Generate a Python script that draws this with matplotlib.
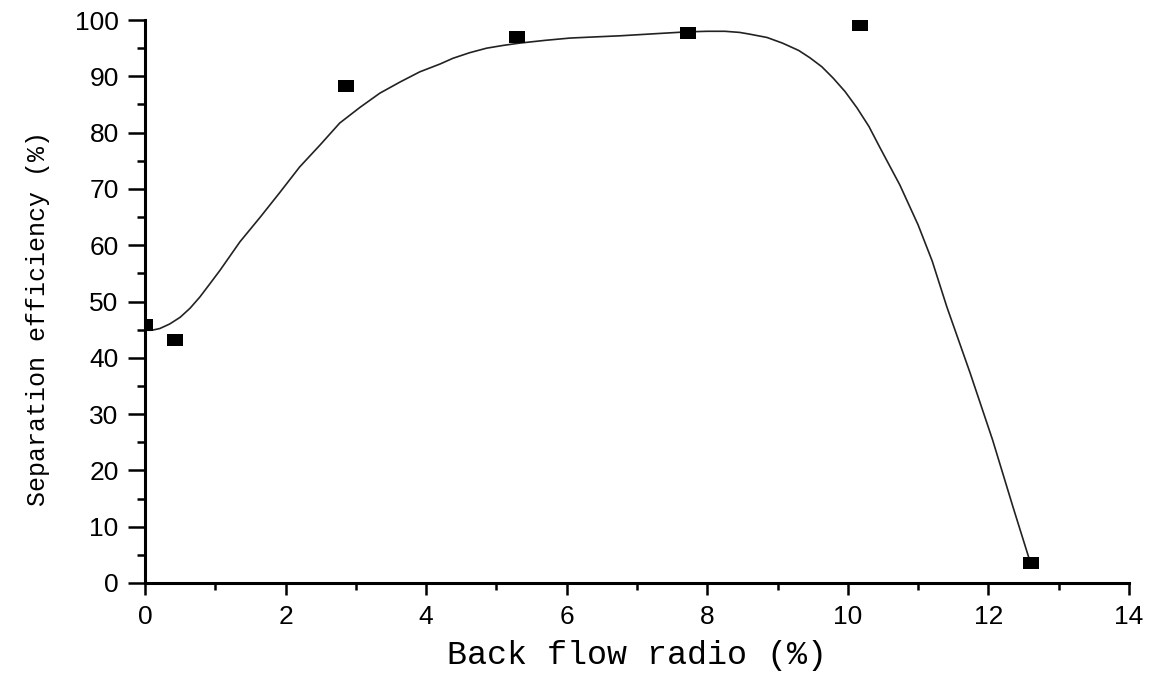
import matplotlib.pyplot as plt
from matplotlib.ticker import MultipleLocator

# measured points
ratio = [0.0, 0.43, 2.86, 5.29, 7.72, 10.17, 12.6]
efficiency = [45.8, 43.2, 88.3, 97.0, 97.7, 99.1, 3.55]

# fitted curve
fit_x = [0.0, 0.1, 0.21, 0.35, 0.5, 0.64, 0.78, 0.92, 1.07, 1.35, 1.64, 1.92,
         2.2, 2.49, 2.77, 3.06, 3.34, 3.63, 3.91, 4.2, 4.38, 4.62, 4.86, 5.1,
         5.33, 5.7, 6.05, 6.4, 6.76, 7.3, 7.71, 8.0, 8.25, 8.46, 8.6, 8.85,
         9.07, 9.3, 9.46, 9.63, 9.79, 9.96, 10.13, 10.3, 10.45, 10.74, 11.0,
         11.2, 11.41, 11.74, 12.06, 12.35, 12.6]
fit_y = [44.9, 44.9, 45.2, 46.0, 47.2, 48.8, 50.8, 53.1, 55.6, 60.6, 65.0, 69.4,
         73.9, 77.8, 81.7, 84.5, 87.0, 89.0, 90.8, 92.2, 93.2, 94.2, 95.0, 95.5,
         95.9, 96.4, 96.8, 97.0, 97.2, 97.6, 97.9, 98.0, 98.0, 97.8, 97.5, 96.9,
         95.9, 94.6, 93.3, 91.7, 89.7, 87.3, 84.4, 81.1, 77.5, 70.7, 63.6,
         57.2, 49.0, 37.3, 25.4, 13.5, 3.5]

fig = plt.figure(figsize=(11.52, 6.79), dpi=100)
ax = fig.add_axes([0.1259, 0.1414, 0.98 - 0.1259, 0.9705 - 0.1414])

ax.plot(fit_x, fit_y, '-', color='#222222', lw=1.2)
box = [(-1, -0.76), (1, -0.76), (1, 0.76), (-1, 0.76), (-1, -0.76)]
ax.plot(ratio, efficiency, linestyle='none', marker=box, markersize=12.2,
        color='black', markeredgewidth=0, zorder=3)

ax.set_xlim(0, 14)
ax.set_ylim(0, 100)
ax.xaxis.set_major_locator(MultipleLocator(2))
ax.xaxis.set_minor_locator(MultipleLocator(1))
ax.yaxis.set_major_locator(MultipleLocator(10))
ax.yaxis.set_minor_locator(MultipleLocator(5))

for side in ['top', 'right']:
    ax.spines[side].set_visible(False)
for side in ['left', 'bottom']:
    ax.spines[side].set_linewidth(2.2)

ax.tick_params(axis='y', which='major', length=12, width=1.8, pad=7,
               labelsize=19, direction='out')
ax.tick_params(axis='y', which='minor', length=6, width=1.8, direction='out')
ax.tick_params(axis='x', which='major', length=8.5, width=1.8, pad=7,
               labelsize=19, direction='out')
ax.tick_params(axis='x', which='minor', length=5, width=1.8, direction='out')
for lab in ax.get_xticklabels() + ax.get_yticklabels():
    lab.set_fontfamily('Liberation Sans')

ax.set_xlabel('Back flow radio (%)', fontsize=24, family='Liberation Mono')
ax.set_ylabel('Separation efficiency (%)', fontsize=18, family='Liberation Mono')
ax.xaxis.set_label_coords(0.5, -0.102)
ax.yaxis.set_label_coords(-0.097, 0.47)

fig.savefig('out.png', dpi=100)
